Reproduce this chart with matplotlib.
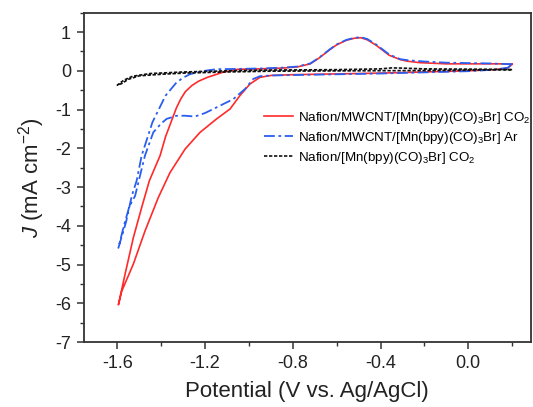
import matplotlib
matplotlib.use('agg')
import matplotlib.pyplot as plt
from matplotlib.ticker import MultipleLocator

plt.rcParams['font.family'] = ['Liberation Sans', 'DejaVu Sans']
plt.rcParams['mathtext.fontset'] = 'custom'
plt.rcParams['mathtext.rm'] = 'Liberation Sans'
plt.rcParams['mathtext.it'] = 'Liberation Sans:italic'

# Nafion/MWCNT/[Mn(bpy)(CO)3Br] under CO2 (one CV loop)
red_v = [0.20, 0.15, 0.05, -0.10, -0.22, -0.28, -0.31, -0.36, -0.42, -0.46, -0.49,
         -0.52, -0.555, -0.60, -0.63, -0.68, -0.72, -0.78, -0.85, -0.95, -1.05,
         -1.12, -1.19, -1.23, -1.26, -1.29, -1.31, -1.33, -1.35, -1.38, -1.405, -1.454,
         -1.489, -1.527, -1.565, -1.595,
         -1.58, -1.527, -1.474, -1.413, -1.36, -1.291, -1.223, -1.147, -1.086, -1.041,
         -0.995, -0.95, -0.90, -0.80, -0.60, -0.40, -0.20, 0.0, 0.12, 0.18, 0.20]
red_j = [0.17, 0.18, 0.18, 0.18, 0.21, 0.25, 0.29, 0.40, 0.66, 0.80, 0.855,
         0.84, 0.79, 0.67, 0.55, 0.33, 0.18, 0.10, 0.07, 0.05, 0.04,
         -0.04, -0.17, -0.27, -0.38, -0.54, -0.72, -0.95, -1.25, -1.70, -2.19, -2.84,
         -3.53, -4.31, -5.26, -6.04,
         -5.69, -4.99, -4.14, -3.27, -2.63, -2.02, -1.59, -1.24, -0.985, -0.64,
         -0.34, -0.17, -0.12, -0.10, -0.08, -0.06, -0.03, 0.0, 0.03, 0.07, 0.17]

# Nafion/MWCNT/[Mn(bpy)(CO)3Br] under Ar
blue_v = [0.20, 0.10, 0.0, -0.10, -0.20, -0.27, -0.31, -0.36, -0.42, -0.46, -0.49,
          -0.52, -0.555, -0.60, -0.63, -0.68, -0.72, -0.78, -0.85, -0.95, -1.05,
          -1.15, -1.19, -1.23, -1.27, -1.30, -1.33, -1.38, -1.44, -1.489, -1.512, -1.534,
          -1.56, -1.595,
          -1.57, -1.545, -1.519, -1.474, -1.436, -1.40, -1.375, -1.329, -1.29, -1.246, -1.20,
          -1.162, -1.071, -1.018, -0.98, -0.95, -0.90, -0.80, -0.60, -0.40, -0.20, 0.0,
          0.12, 0.18, 0.20]
blue_j = [0.17, 0.19, 0.20, 0.21, 0.24, 0.27, 0.30, 0.42, 0.68, 0.82, 0.87,
          0.85, 0.80, 0.68, 0.56, 0.34, 0.19, 0.11, 0.08, 0.06, 0.05,
          0.04, 0.01, -0.03, -0.09, -0.18, -0.30, -0.64, -1.33, -2.19, -2.84, -3.23,
          -3.90, -4.57,
          -4.00, -3.50, -3.23, -2.19, -1.59, -1.36, -1.24, -1.16, -1.16, -1.18, -1.09,
          -0.985, -0.73, -0.47, -0.21, -0.14, -0.12, -0.11, -0.09, -0.07, -0.04, -0.01,
          0.03, 0.08, 0.17]

# Nafion/[Mn(bpy)(CO)3Br] under CO2
black_v = [0.20, 0.10, -0.20, -0.30, -0.35, -0.40, -0.60, -0.90, -1.10, -1.30, -1.45,
           -1.53, -1.57, -1.60, -1.58, -1.55, -1.50, -1.40, -1.30, -1.10, -0.90,
           -0.50, -0.10, 0.20]
black_j = [0.03, 0.04, 0.05, 0.07, 0.075, 0.05, 0.03, 0.02, 0.0, -0.03, -0.07,
           -0.14, -0.24, -0.37, -0.33, -0.22, -0.13, -0.09, -0.06, -0.03, -0.01,
           0.0, 0.01, 0.03]

labels = ['Nafion/MWCNT/[Mn(bpy)(CO)$_3$Br] CO$_2$',
          'Nafion/MWCNT/[Mn(bpy)(CO)$_3$Br] Ar',
          'Nafion/[Mn(bpy)(CO)$_3$Br] CO$_2$']

fig = plt.figure(figsize=(5.33, 4.07), dpi=100)
ax = fig.add_axes([0.1567, 0.1597, 0.8395, 0.8091])

ax.plot(red_v, red_j, '-', color='#ff2a2a', lw=1.2, label=labels[0])
ax.plot(blue_v, blue_j, color='#2a5ef0', lw=1.3, ls=(0, (6, 2, 1.5, 2)), label=labels[1])
ax.plot(black_v, black_j, color='#111111', lw=1.2, ls=(0, (2, 1)), label=labels[2])

ax.set_xlim(-1.754, 0.286)
ax.set_ylim(-7, 1.5)
ax.xaxis.set_minor_locator(MultipleLocator(0.2))
ax.yaxis.set_minor_locator(MultipleLocator(0.5))
ax.set_xticks([-1.6, -1.2, -0.8, -0.4, 0.0])
ax.set_xticklabels(['-1.6', '-1.2', '-0.8', '-0.4', '0.0'])
ax.set_yticks(range(-7, 2))
ax.set_yticklabels([str(v) for v in range(-7, 2)])

for s in ax.spines.values():
    s.set_color('#333333')
    s.set_linewidth(1.3)
ax.tick_params(which='major', direction='out', length=5, width=1.1, colors='#333333',
               labelsize=13, labelcolor='#222222', pad=4)
ax.tick_params(which='minor', direction='out', length=3, width=1.0, colors='#333333')

ax.set_xlabel('Potential (V vs. Ag/AgCl)', fontsize=16, color='#222222', labelpad=7)
ax.set_ylabel(r'$\it{J}$ (mA cm$^{-2}$)', fontsize=16, color='#222222', labelpad=6)

ax.legend(loc='upper left', bbox_to_anchor=(0.403, 0.705), frameon=False, fontsize=9.6,
          handlelength=2.2, handletextpad=0.35, labelspacing=0.3, borderpad=0,
          borderaxespad=0)

fig.savefig('out.png', dpi=100)
